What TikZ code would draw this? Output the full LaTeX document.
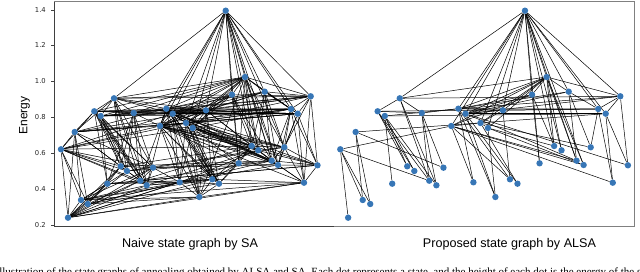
\documentclass[tikz,border=0pt]{standalone}
\usepackage{fontspec}
\setmainfont{Liberation Serif}
\newfontfamily\dejavu{DejaVu Sans}
\newfontfamily\arialf{Liberation Sans}
\usetikzlibrary{backgrounds}
\definecolor{nodeblue}{RGB}{55,118,182}
\def\nodelist{1/225.7/10.7, 2/245/77, 3/264.7/91.7, 4/232/94.7, 5/310.7/96.3, 6/114/98.3, 7/94.3/111.3, 8/100.7/116, 9/133.7/113, 10/166.3/108.7, 11/172.7/113.7, 12/206/110.3, 13/291/109, 14/297.7/113.7, 15/160/126, 16/186/123, 17/192.7/128, 18/74.7/132, 19/61/149.3, 20/251.7/146, 21/258.3/150.3, 22/284.3/147.3, 23/238.7/163.3, 24/271.7/160.7, 25/278/165, 26/317.5/165.3, 27/120.7/166.3, 28/127/171, 29/153/167.7, 30/140.3/180.7, 31/146.7/185.3, 32/107.3/183.7, 33/179.7/182.3, 34/212.3/179.3, 35/219/183.7, 36/304/182.7, 37/199.3/197, 38/81/200, 39/87.7/204, 40/68/217.7}
\def\redges{1/6,1/2,1/3,1/4,1/5,1/10,1/11,1/15,1/12,1/13,1/16,1/17,1/20,1/21,1/23,1/24,1/25,1/14,
2/6,2/5,2/10,2/11,2/15,2/16,2/17,2/20,2/21,2/24,2/25,2/12,2/3,2/4,
3/10,3/11,3/22,3/24,3/13,
4/23,4/10,4/15,4/11,4/20,
5/6,5/13,5/14,5/26,5/10,5/11,
6/7,6/30,6/31,6/9,
7/13,7/27,7/28,7/30,7/9,
8/14,8/27,8/28,8/31,8/10,8/32,
9/30,9/31,9/29,9/10,
10/33,10/34,10/37,10/12,10/13,
11/35,11/37,11/14,11/12,11/24,
12/34,12/16,12/13,
13/36,13/22,
14/36,14/26,
15/19,15/33,15/34,15/24,15/25,15/36,15/16,
16/17,16/22,16/35,
17/25,17/20,17/37,
18/14,18/38,18/39,18/29,
19/40,19/38,19/39,19/30,
26/11}
\def\ledges{1/22,
2/7,2/8,2/9,2/13,2/14,2/22,2/23,
3/5,3/14,3/12,3/15,3/20,3/21,3/25,
4/12,4/16,4/17,4/5,4/21,4/24,
5/12,5/8,5/36,5/22,5/16,
6/8,6/10,6/11,6/27,6/28,6/29,6/18,6/12,6/4,
7/8,7/18,7/19,7/10,7/11,7/12,7/31,7/29,7/14,7/32,
8/13,8/12,8/30,8/9,8/29,8/11,
9/11,9/27,9/28,9/32,9/12,9/15,
10/11,10/15,10/16,10/17,10/35,10/20,10/21,10/14,10/30,10/31,
11/15,11/16,11/33,11/34,11/25,11/22,11/13,
12/14,12/17,12/20,12/21,12/35,12/37,12/15,
13/14,13/25,13/24,13/26,13/16,13/15,13/17,
14/22,14/25,14/16,14/15,
15/17,15/18,15/35,15/37,15/20,15/21,15/22,15/23,15/26,
16/33,16/34,16/23,16/24,16/25,16/20,
17/33,17/34,17/35,17/22,17/21,17/24,17/26,
18/19,18/40,18/27,18/28,18/16,18/10,18/13,18/12,
19/27,19/28,19/29,19/31,19/16,19/17,19/11,19/20,
20/21,20/22,20/23,20/24,20/34,20/35,20/30,20/27,
21/22,21/24,21/25,21/33,21/31,21/28,
22/25,22/24,22/26,22/36,22/29,
23/24,23/25,23/35,23/34,23/29,23/28,23/40,
24/25,24/26,24/36,24/27,24/30,24/39,
25/26,25/36,25/29,25/38,
26/36,26/30,26/32,
27/28,27/29,27/32,27/30,27/40,27/39,
28/29,28/31,28/38,28/40,
29/30,29/31,29/40,29/38,29/33,
30/31,30/33,30/32,30/40,30/39,
31/33,31/34,31/40,31/38,
32/38,32/39,32/40,32/33,32/34,
33/34,33/35,33/37,33/40,33/39,
34/35,34/37,34/40,34/38,34/36,
35/37,35/36,35/39,
36/40,36/37,36/38,
37/40,37/38,37/39,37/2,37/16,
38/39,38/40,
39/40}
\begin{document}
\begin{tikzpicture}[x=1pt,y=-1pt,
  gnode/.style={circle,fill=nodeblue,draw=none,inner sep=0pt,minimum size=6.4pt},
  gedge/.style={black,line width=0.5pt},
  spineL/.style={black!75,line width=0.6pt},
  spineR/.style={black!50,line width=0.6pt},
  ticklabel/.style={font=\dejavu\fontsize{6.8}{8}\selectfont,text=black!85,inner sep=0pt,anchor=east},
  subtitle/.style={font=\arialf\fontsize{12.6}{14}\selectfont,inner sep=0pt,anchor=base},
  caption/.style={font=\fontsize{11}{13}\selectfont,inner sep=0pt,anchor=base west}]
\useasboundingbox (0,0) rectangle (640,272);
% frame
\draw[spineL] (54.3,1.7) -- (54.3,226.7) -- (334,226.7);
\draw[spineR] (334,226.7) -- (634.3,226.7) -- (634.3,1.7) -- (54.3,1.7);
% ticks
\foreach \v/\yy in {1.4/10,1.2/45,1.0/81,0.8/117,0.6/153.3,0.4/189.3,0.2/225.3}{
  \draw[spineL] (51,\yy) -- (54.3,\yy);
  \node[ticklabel] at (46,\yy) {\v};
}
\node[font=\arialf\fontsize{12}{14}\selectfont,rotate=90,inner sep=0pt] (ylab) at (24.6,115.5) {Energy};
% nodes
\foreach \id/\x/\y in \nodelist {
  \node[gnode] (a\id) at (\x,\y) {};
  \pgfmathsetmacro\xr{340.3+(\x-61)*1.1213}
  \node[gnode] (b\id) at (\xr,\y) {};
}
% edges
\begin{pgfonlayer}{background}
\foreach \i/\j in \redges {
  \draw[gedge] (a\i) -- (a\j);
  \draw[gedge] (b\i) -- (b\j);
}
\foreach \i/\j in \ledges {
  \draw[gedge] (a\i) -- (a\j);
}
\end{pgfonlayer}
% titles
\node[subtitle] (tl) at (190,248) {Naive state graph by SA};
\node[subtitle] (tr) at (509.5,248) {Proposed state graph by ALSA};
\node[caption] (cap) at (-4.5,276) {Illustration of the state graphs of annealing obtained by ALSA and SA. Each dot represents a state, and the height of each dot is the energy of the state.};
\end{tikzpicture}
\end{document}
